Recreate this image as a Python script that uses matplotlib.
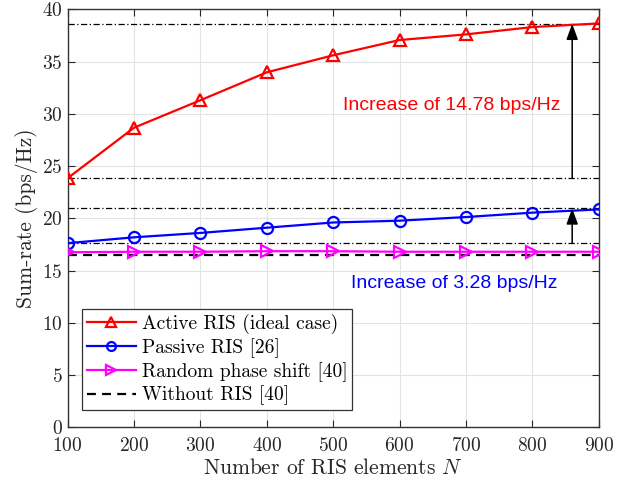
import numpy as np
import matplotlib
matplotlib.use("Agg")
import matplotlib.pyplot as plt

# data
N = [100, 200, 300, 400, 500, 600, 700, 800, 900]
active = [23.84, 28.67, 31.3, 33.97, 35.6, 37.06, 37.6, 38.3, 38.65]
passive = [17.62, 18.18, 18.6, 19.1, 19.6, 19.77, 20.12, 20.54, 20.85]
random_ps = [16.75, 16.8, 16.8, 16.85, 16.85, 16.8, 16.8, 16.8, 16.8]
no_ris = [16.45, 16.45, 16.45, 16.45, 16.45, 16.45, 16.45, 16.45, 16.45]

# reference levels and annotations
levels = [38.62, 23.84, 20.95, 17.6]
arrow_x = 860
arrows = [(23.84, 38.62), (17.6, 20.95)]
txt_active = "Increase of 14.78 bps/Hz"
txt_passive = "Increase of 3.28 bps/Hz"

plt.rcParams['font.family'] = 'cmr10'
plt.rcParams['mathtext.fontset'] = 'cm'
plt.rcParams['axes.formatter.use_mathtext'] = True

fig = plt.figure(figsize=(6.22, 4.82), dpi=100)
ax = fig.add_axes([0.1088, 0.1135, 0.8538, 0.8672])

ax.grid(True, color='#e3e3e3', lw=0.8)
ax.set_axisbelow(True)

for y in levels:
    ax.axhline(y, color='k', lw=0.9, ls=(0, (5, 2, 1, 2)), zorder=2)

ax.plot(N, active, '-^', color='r', lw=1.6, ms=9, mfc='none', mew=1.6,
        label='Active RIS (ideal case)', zorder=4)
ax.plot(N, passive, '-o', color='b', lw=1.6, ms=8, mfc='none', mew=1.6,
        label='Passive RIS [26]', zorder=4)
ax.plot(N, random_ps, '->', color='#ff00ff', lw=1.6, ms=9, mfc='none', mew=1.6,
        label='Random phase shift [40]', zorder=4)
ax.plot(N, no_ris, '--', color='k', lw=1.6, dashes=(4, 2.8),
        label='Without RIS [40]', zorder=3)

for y0, y1 in arrows:
    ax.annotate('', xy=(arrow_x, y1), xytext=(arrow_x, y0),
                arrowprops=dict(arrowstyle='-|>,head_length=0.6,head_width=0.22',
                                color='k', lw=1.1, mutation_scale=16,
                                shrinkA=0, shrinkB=0), zorder=5)

ax.text(678, 30.75, txt_active, color='r', fontsize=14,
        family='Liberation Sans', ha='center', va='center')
ax.text(683, 13.8, txt_passive, color='b', fontsize=14,
        family='Liberation Sans', ha='center', va='center')

ax.set_xlim(100, 900)
ax.set_ylim(0, 40)
ax.set_xticks(N)
ax.set_yticks(np.arange(0, 41, 5))
ax.tick_params(direction='in', top=True, right=True, labelsize=14,
               colors='#262626', length=5)
ax.tick_params(axis='x', pad=7)
for s in ax.spines.values():
    s.set_color('#333333')
    s.set_linewidth(1.0)

ax.set_xlabel('Number of RIS elements $N$', fontsize=15.5, color='#262626', labelpad=2)
ax.set_ylabel('Sum-rate (bps/Hz)', fontsize=15.5, color='#262626', labelpad=3)

leg = ax.legend(loc='lower left', bbox_to_anchor=(0.0275, 0.041), borderaxespad=0,
                fontsize=14, fancybox=False, framealpha=1, edgecolor='#333333',
                handlelength=2.5, handletextpad=0.3, labelspacing=0.2,
                borderpad=0.25, markerscale=0.8)
leg.get_frame().set_linewidth(0.9)

fig.savefig('out.png', dpi=100)
